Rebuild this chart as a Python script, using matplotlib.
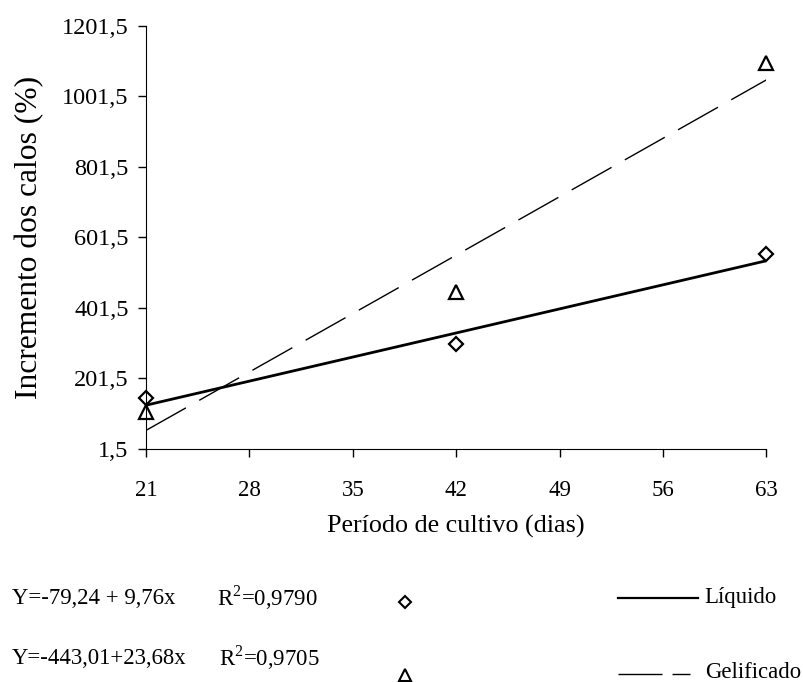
import matplotlib
matplotlib.use("Agg")
import matplotlib.pyplot as plt
import numpy as np

# dias de cultivo
dias = [21, 42, 63]
liquido = [147, 300, 555]
gelificado = [106, 447, 1097]

# regressoes (intercepto, inclinacao)
coef_liq = [-79.24, 9.76]
coef_gel = [-443.01, 23.68]

x_ticks = [21, 28, 35, 42, 49, 56, 63]
y_ticks = [1.5, 201.5, 401.5, 601.5, 801.5, 1001.5, 1201.5]

eq_liq = "Y=-79,24 + 9,76x"
eq_gel = "Y=-443,01+23,68x"
r2_liq = "R$^{2}$=0,9790"
r2_gel = "R$^{2}$=0,9705"

plt.rcParams['font.family'] = ['Liberation Serif', 'DejaVu Serif']
plt.rcParams['mathtext.fontset'] = 'custom'
plt.rcParams['mathtext.rm'] = 'Liberation Serif'

fig = plt.figure(figsize=(8.04, 6.82), dpi=100)
ax = fig.add_axes([146/804, 1-449/682, (766.5-146)/804, (449-26)/682])

xs = np.array([dias[0], dias[-1]])
ax.plot(xs, coef_liq[0] + coef_liq[1]*xs, color='black', lw=2.0)
ax.plot(xs, coef_gel[0] + coef_gel[1]*xs, color='black', lw=1.0, dashes=(33, 11))
ax.plot(dias, liquido, linestyle='none', marker='D', ms=7.5, mfc='white', mec='black', mew=1.6, clip_on=False)
ax.plot(dias, gelificado, linestyle='none', marker='^', ms=10, mfc='white', mec='black', mew=1.6, clip_on=False)

ax.set_xlim(21, 63)
ax.set_ylim(1.5, 1201.5)
ax.set_xticks(x_ticks)
ax.set_yticks(y_ticks)
ax.set_yticklabels([f"{v:.1f}".replace('.', ',') for v in y_ticks])
ax.spines['top'].set_visible(False)
ax.spines['right'].set_visible(False)
ax.tick_params(direction='out', length=5.5, width=1, pad=7)
ax.tick_params(axis='y', labelsize=17.5)
ax.tick_params(axis='x', labelsize=16.5, pad=16.5)
ax.set_xlabel("Período de cultivo (dias)", fontsize=18.8, labelpad=10.5)
ax.set_ylabel("Incremento dos calos (%)", fontsize=22.7, labelpad=13)

# legenda inferior
fs = 16.4
fig.text(12/804, 1-598/682, eq_liq, fontsize=fs, va='center')
fig.text(217/804, 1-598/682, r2_liq, fontsize=fs, va='center')
fig.text(12/804, 1-658/682, eq_gel, fontsize=fs, va='center')
fig.text(219/804, 1-658/682, r2_gel, fontsize=fs, va='center')
fig.lines.append(plt.Line2D([405/804], [1-602/682], transform=fig.transFigure, marker='D', ms=6.5,
                            mfc='white', mec='black', mew=1.5, linestyle='none'))
fig.lines.append(plt.Line2D([405/804], [1-675/682], transform=fig.transFigure, marker='^', ms=8.5,
                            mfc='white', mec='black', mew=1.5, linestyle='none'))
fig.lines.append(plt.Line2D([618/804, 698/804], [1-598/682]*2, transform=fig.transFigure,
                            color='black', lw=1.6))
fig.lines.append(plt.Line2D([618/804, 690/804], [1-674/682]*2, transform=fig.transFigure,
                            color='black', lw=1.0, dashes=(31.7, 7.2)))
fig.text(704/804, 1-598/682, "Líquido", fontsize=fs, va='center')
fig.text(705/804, 1-672/682, "Gelificado", fontsize=fs, va='center')

fig.savefig("out.png", dpi=100)
